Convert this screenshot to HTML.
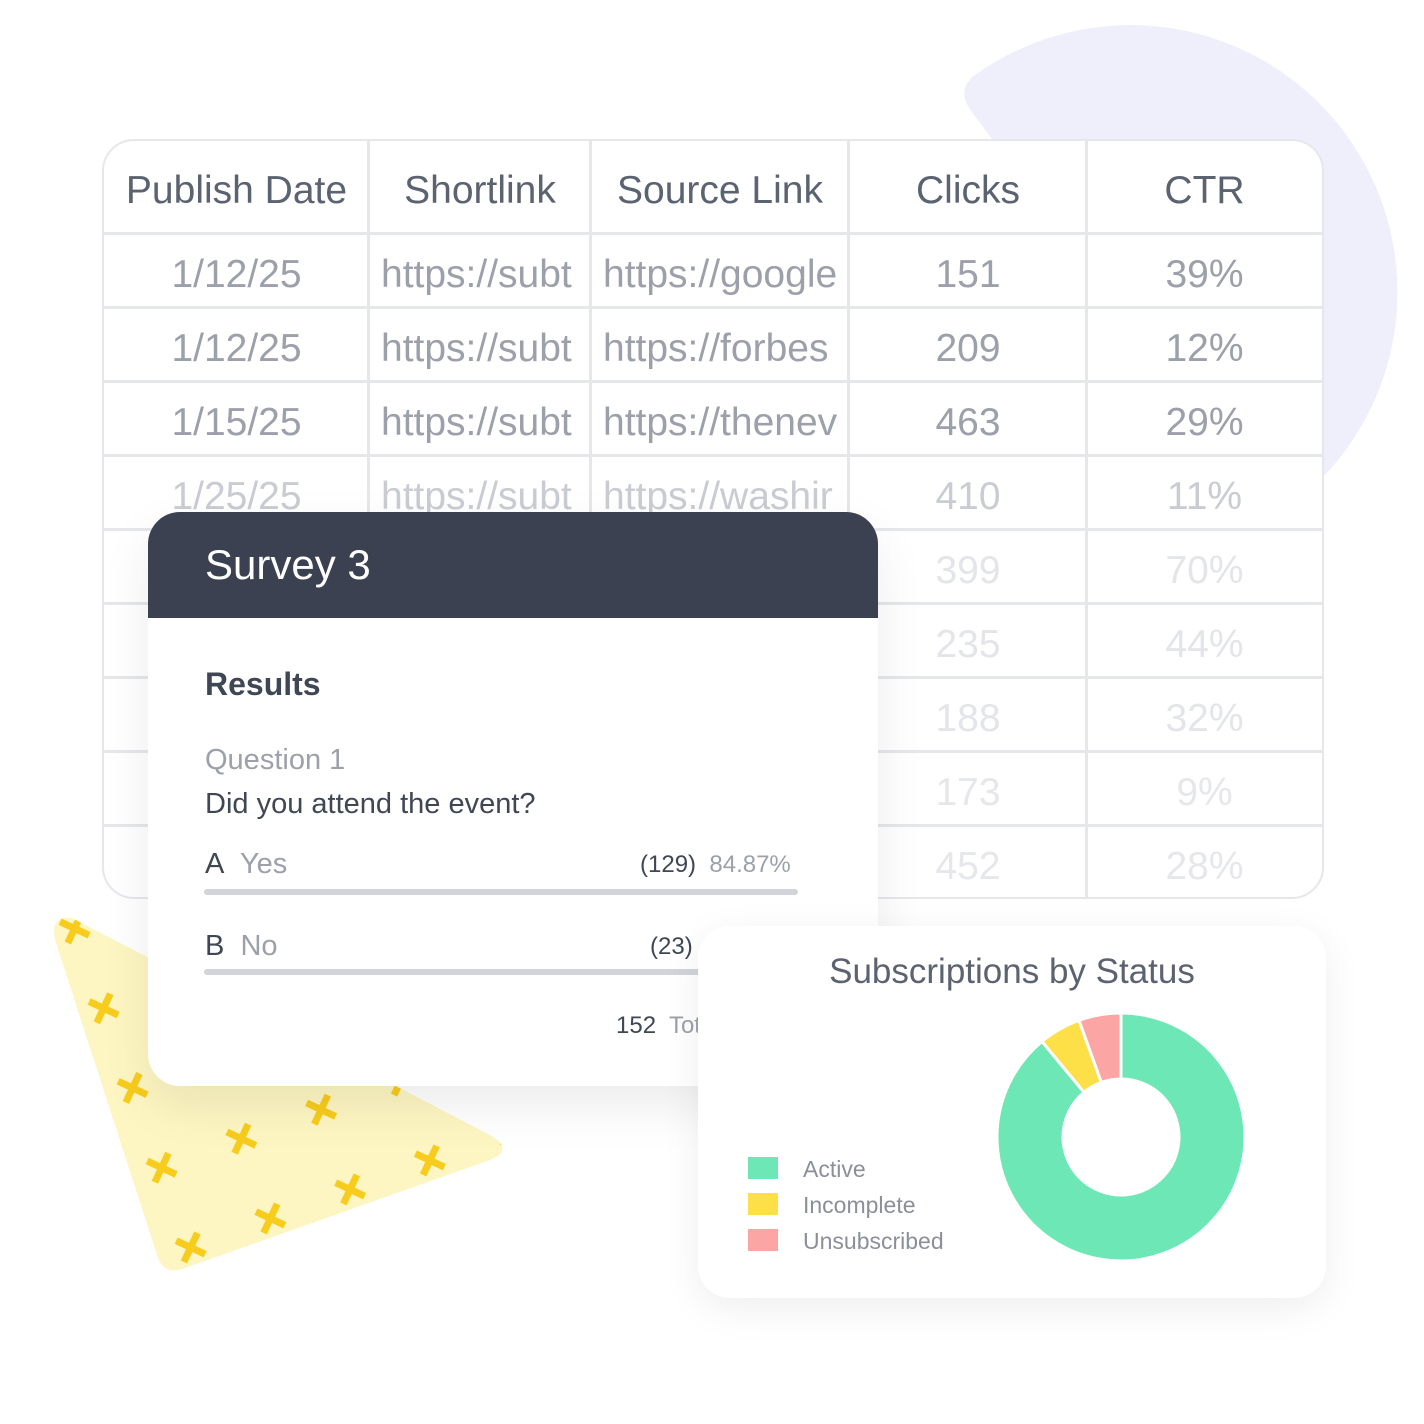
<!DOCTYPE html>
<html><head><meta charset="utf-8"><style>
body{margin:0;width:1424px;height:1424px;background:#fff;position:relative;overflow:hidden;font-family:"Liberation Sans",sans-serif}
.a{position:absolute}
.cell{position:absolute;white-space:nowrap;overflow:hidden;text-align:center;transform:translateY(-50%)}
.vl{position:absolute;width:3px;background:#e6e7eb}
.hl{position:absolute;height:3px;background:#e6e7eb;left:102px;width:1220px}
</style></head><body>
<svg class="a" style="left:0;top:0" width="1424" height="1424">
<path d="M975 75 A267 267 0 1 1 1000 525 L1000 150 L972 112 Q955 90 975 75Z" fill="#efeffc"/>
</svg>
<div class="a" id="tbl" style="left:102px;top:139px;width:1218px;height:756px;border:2px solid #e6e7eb;border-radius:32px;background:#fff;overflow:hidden"></div>

<svg class="a" style="left:0;top:0" width="1424" height="1424">
<defs><pattern id="px" width="120" height="120" patternUnits="userSpaceOnUse" patternTransform="rotate(25) translate(10 0)">
<path d="M14 30h32M30 14v32M74 90h32M90 74v32" stroke="#f8cc1c" stroke-width="7"/></pattern></defs>
<path d="M72 918 L490 1135 Q515 1150 490 1160 L185 1268 Q165 1276 158 1258 L55 940 Q50 915 72 918Z" fill="#fdf6c2"/>
<path d="M72 918 L490 1135 Q515 1150 490 1160 L185 1268 Q165 1276 158 1258 L55 940 Q50 915 72 918Z" fill="url(#px)"/>
</svg>

<div class="a" style="left:148px;top:512px;width:730px;height:574px;border-radius:32px;background:#fff;box-shadow:0 20px 50px rgba(0,0,0,0.08);overflow:hidden">
 <div class="a" style="left:0;top:0;width:730px;height:106px;background:#3b4150"></div>
 <div class="a" style="left:57px;top:29px;color:#fff;font-size:42px">Survey 3</div>
 <div class="a" style="left:57px;top:154px;color:#3f4654;font-size:32px;font-weight:bold">Results</div>
 <div class="a" style="left:57px;top:232px;color:#9ca0aa;font-size:29px">Question 1</div>
 <div class="a" style="left:57px;top:276px;color:#3f4654;font-size:29px">Did you attend the event?</div>
 <div class="a" style="left:57px;top:336px;font-size:29px;color:#3f4654">A&nbsp; <span style="color:#9ca0aa">Yes</span></div>
 <div class="a" style="left:492px;top:339px;font-size:24px;color:#3f4654">(129)&nbsp; <span style="color:#9ca0aa">84.87%</span></div>
 <div class="a" style="left:56px;top:377px;width:594px;height:6px;border-radius:3px;background:#d1d4da"></div>
 <div class="a" style="left:57px;top:418px;font-size:29px;color:#3f4654">B&nbsp; <span style="color:#9ca0aa">No</span></div>
 <div class="a" style="left:502px;top:421px;font-size:24px;color:#3f4654">(23)</div>
 <div class="a" style="left:56px;top:457px;width:594px;height:6px;border-radius:3px;background:#d1d4da"></div>
 <div class="a" style="left:468px;top:500px;font-size:24px;color:#3f4654">152&nbsp; <span style="color:#9ca0aa">Total</span></div>
</div>

<div class="a" style="left:698px;top:926px;width:628px;height:372px;border-radius:32px;background:#fff;box-shadow:0 10px 40px rgba(0,0,0,0.07)">
 <div class="a" style="left:0;width:628px;text-align:center;top:26px;font-size:35px;color:#5b6270">Subscriptions by Status</div>
 <div id="legend"></div>
 <svg id="donut" class="a" style="left:0;top:0" width="628" height="372"></svg>
</div>

<script>
const headers=["Publish Date","Shortlink","Source Link","Clicks","CTR"];
const dates=["1/12/25","1/12/25","1/15/25","1/25/25","","","","",""];
const shortlinks=["https://subt","https://subt","https://subt","https://subt","","","","",""];
const sources=["https://google","https://forbes","https://thenev","https://washir","","","","",""];
const clicks=[151,209,463,410,399,235,188,173,452];
const ctr=["39%","12%","29%","11%","70%","44%","32%","9%","28%"];
const tbl=document.getElementById('tbl');
const colX=[0,265,487,745,983,1218];
const rowColors=["#9ca0aa","#9ca0aa","#9ca0aa","#c9ccd2","#e3e5e9","#e3e5e9","#e3e5e9","#e6e7eb","#e6e7eb"];
for(let i=1;i<5;i++){const v=document.createElement('div');v.className='vl';v.style.left=(colX[i]-2)+'px';v.style.top='0';v.style.height='760px';

tbl.appendChild(v);}
for(let r=0;r<9;r++){const h=document.createElement('div');h.className='hl';h.style.left='0';h.style.top=(91+r*74)+'px';

tbl.appendChild(h);}
function cell(txt,c,y,color,size,name,align){const d=document.createElement('div');d.className='cell';


d.textContent=txt;d.style.left=(colX[c]+(align?12:0))+'px';d.style.width=(colX[c+1]-colX[c]-(align?12:0))+'px';d.style.top=y+'px';d.style.color=color;d.style.fontSize=size+'px';if(align)d.style.textAlign='left';tbl.appendChild(d);}
headers.forEach((h,c)=>cell(h,c,50,"#5b6270",39,'column-header'));
for(let r=0;r<9;r++){const y=134+r*74,col=rowColors[r];
cell(dates[r],0,y,col,39,'publish-date-cell');
cell(shortlinks[r],1,y,col,39,'shortlink-cell',true);
cell(sources[r],2,y,col,39,'source-link-cell',true);
cell(String(clicks[r]),3,y,col,39,'clicks-cell');
cell(ctr[r],4,y,col,39,'ctr-cell');}

const statuses=["Active","Incomplete","Unsubscribed"];
const counts=[89,5.5,5.5];
const colors=["#6ee7b7","#fddf47","#fca5a5"];
const lg=document.getElementById('legend');
statuses.forEach((s,i)=>{const sw=document.createElement('div');sw.className='a';


sw.style.cssText=`left:50px;top:${231+i*36}px;width:30px;height:22px;background:${colors[i]}`;lg.appendChild(sw);
const t=document.createElement('div');t.className='a';


t.style.cssText=`left:105px;top:${230+i*36}px;font-size:23px;color:#8a8f99`;t.textContent=s;lg.appendChild(t);});
const svg=document.getElementById('donut');const cx=423,cy=211,R=124,r0=58;
const tot=counts.reduce((a,b)=>a+b,0);let a0=0;
counts.forEach((v,i)=>{const a1=a0+v/tot*2*Math.PI;
const p=(a,rr)=>[cx+rr*Math.sin(a),cy-rr*Math.cos(a)];
const [x1,y1]=p(a0,R),[x2,y2]=p(a1,R),[x3,y3]=p(a1,r0),[x4,y4]=p(a0,r0);const lf=(a1-a0)>Math.PI?1:0;
const path=document.createElementNS('http://www.w3.org/2000/svg','path');
path.setAttribute('d',`M${x1} ${y1}A${R} ${R} 0 ${lf} 1 ${x2} ${y2}L${x3} ${y3}A${r0} ${r0} 0 ${lf} 0 ${x4} ${y4}Z`);
path.setAttribute('fill',colors[i]);path.setAttribute('stroke','#fff');path.setAttribute('stroke-width','3');


svg.appendChild(path);a0=a1;});
</script>
</body></html>
